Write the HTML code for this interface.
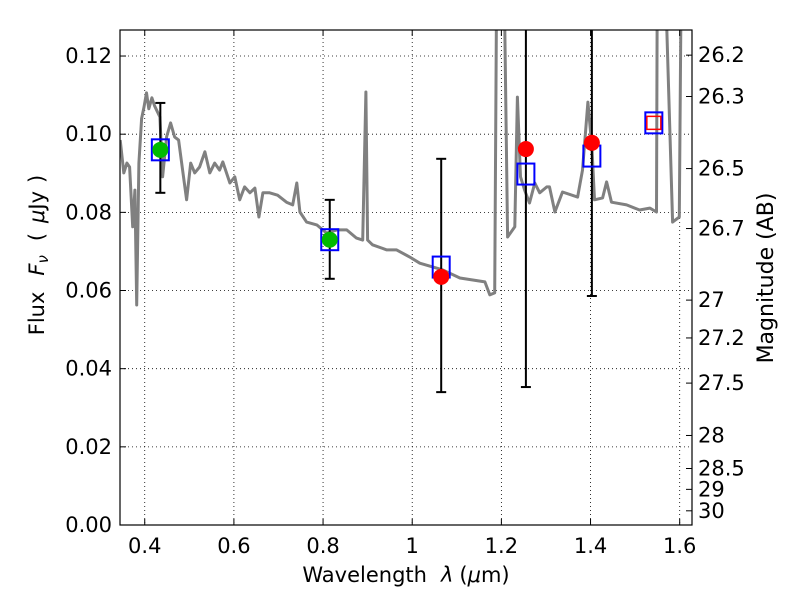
<!DOCTYPE html>
<html><head><meta charset="utf-8"><style>
body{margin:0;background:#fff;}
svg text{font-family:"DejaVu Sans","Liberation Sans",sans-serif;}
</style></head><body>
<svg id="chart" width="800" height="600" xmlns="http://www.w3.org/2000/svg">
<defs><clipPath id="pc"><rect x="120" y="30" width="572" height="495"/></clipPath></defs>
<rect x="0" y="0" width="800" height="600" fill="#fff"/>
<g id="grid"></g>
<g id="spec" clip-path="url(#pc)"></g>
<g id="phot" clip-path="url(#pc)"></g>
<rect x="120" y="30" width="572" height="495" fill="none" stroke="#000" stroke-width="1.2"/>
<g id="axes"></g>
<text x="406" y="582" font-size="21" text-anchor="middle">Wavelength<tspan dx="14" font-style="italic">λ</tspan><tspan dx="6">(</tspan><tspan font-style="italic">μ</tspan>m)</text>
<text transform="translate(44,255) rotate(-90)" font-size="21" text-anchor="middle">Flux<tspan dx="16" font-style="italic">F</tspan><tspan font-style="italic" font-size="15" dy="4">ν</tspan><tspan dy="-4" dx="14">(</tspan><tspan dx="10" font-style="italic">μ</tspan>Jy<tspan dx="8">)</tspan></text>
<text transform="translate(773,278) rotate(-90)" font-size="22" text-anchor="middle">Magnitude (AB)</text>
</svg>
<script>
const specLam=[0.345,0.353,0.360,0.366,0.373,0.378,0.382,0.387,0.393,0.398,0.404,0.409,0.416,0.422,0.434,0.440,0.449,0.458,0.467,0.476,0.485,0.494,0.503,0.512,0.523,0.535,0.546,0.557,0.568,0.575,0.591,0.602,0.613,0.624,0.636,0.647,0.656,0.665,0.680,0.698,0.718,0.732,0.741,0.748,0.763,0.786,0.808,0.831,0.853,0.875,0.889,0.896,0.900,0.911,0.943,0.965,0.994,1.017,1.068,1.107,1.163,1.174,1.185,1.190,1.196,1.205,1.214,1.230,1.236,1.243,1.252,1.263,1.275,1.286,1.302,1.308,1.320,1.337,1.371,1.382,1.394,1.403,1.409,1.427,1.436,1.447,1.481,1.510,1.533,1.548,1.550,1.555,1.565,1.584,1.599,1.604,1.615,1.627];
const specFlux=[0.0985,0.0901,0.0926,0.0916,0.0763,0.0857,0.0563,0.0926,0.104,0.1068,0.1106,0.1065,0.1093,0.1073,0.1044,0.0891,0.0993,0.1029,0.0993,0.0985,0.0908,0.0832,0.0926,0.0901,0.0916,0.0955,0.0901,0.0926,0.0908,0.0929,0.0875,0.0891,0.0832,0.0865,0.0850,0.0862,0.0788,0.0850,0.0850,0.0844,0.0826,0.0819,0.0875,0.0801,0.0775,0.0768,0.0747,0.0755,0.0755,0.0734,0.0729,0.1108,0.0729,0.0717,0.0704,0.0704,0.0686,0.0670,0.0653,0.0632,0.0622,0.0589,0.0594,0.15,0.15,0.15,0.0737,0.0763,0.1095,0.0891,0.0857,0.0824,0.0875,0.0850,0.0865,0.0865,0.0801,0.0852,0.0839,0.0908,0.1082,0.0967,0.0832,0.0837,0.0878,0.0826,0.0819,0.0806,0.0811,0.0801,0.15,0.15,0.15,0.0775,0.0788,0.15,0.15,0.15];
const photLam=[0.435,0.815,1.065,1.255,1.403,1.542];
const obsFlux=[0.096,0.073,0.0635,0.0962,0.0978,0.1029];
const modelFlux=[0.096,0.073,0.066,0.0898,0.0944,0.1029];
const errLo=[0.085,0.063,0.034,0.0353,0.0586,null];
const errHi=[0.108,0.0832,0.0937,0.16,0.16,null];
const obsKind=['green','green','red','red','red','redsq'];
const xTicks=[0.4,0.6,0.8,1.0,1.2,1.4,1.6];
const xTickLabels=['0.4','0.6','0.8','1','1.2','1.4','1.6'];
const yTicks=[0,0.02,0.04,0.06,0.08,0.10,0.12];
const yTickLabels=['0.00','0.02','0.04','0.06','0.08','0.10','0.12'];
const magTicks=[26.2,26.3,26.5,26.7,27,27.2,27.5,28,28.5,29,30];
const magLabels=['26.2','26.3','26.5','26.7','27','27.2','27.5','28','28.5','29','30'];

const X0=120,X1=692,Y0=525,Y1=30,XMIN=0.3445,XMAX=1.6276,YMIN=0,YMAX=0.12666;
const sx=v=>X0+(v-XMIN)/(XMAX-XMIN)*(X1-X0);
const sy=v=>Y0-(v-YMIN)/(YMAX-YMIN)*(Y0-Y1);
const NS='http://www.w3.org/2000/svg';
function mk(tag,parent,attrs){const e=document.createElementNS(NS,tag);for(const k in attrs)e.setAttribute(k,attrs[k]);parent.appendChild(e);return e;}
const grid=document.getElementById('grid'),axes=document.getElementById('axes'),spec=document.getElementById('spec'),phot=document.getElementById('phot');

xTicks.forEach((t,i)=>{
  const x=sx(t);
  const g=mk('line',grid,{x1:x,x2:x,y1:Y1,y2:Y0,stroke:'#000','stroke-width':0.8,'stroke-dasharray':'1,3'});
  
  
  mk('line',axes,{x1:x,x2:x,y1:Y0,y2:Y0-6,stroke:'#000'});
  mk('line',axes,{x1:x,x2:x,y1:Y1,y2:Y1+6,stroke:'#000'});
  const l=mk('text',axes,{x:x,y:Y0+28,'font-size':21,'text-anchor':'middle'});
  l.textContent=xTickLabels[i];
  
  
});
yTicks.forEach((t,i)=>{
  const y=sy(t);
  const g=mk('line',grid,{x1:X0,x2:X1,y1:y,y2:y,stroke:'#000','stroke-width':0.8,'stroke-dasharray':'1,3'});
  
  
  mk('line',axes,{x1:X0,x2:X0+6,y1:y,y2:y,stroke:'#000'});
  const l=mk('text',axes,{x:X0-8,y:y+7,'font-size':21,'text-anchor':'end'});
  l.textContent=yTickLabels[i];
  
  
});
magTicks.forEach((m,i)=>{
  const f=Math.pow(10,(23.9-m)/2.5);
  const y=sy(f);
  mk('line',axes,{x1:X1,x2:X1-6,y1:y,y2:y,stroke:'#000'});
  const l=mk('text',axes,{x:X1+6,y:y+7,'font-size':21});
  l.textContent=magLabels[i];
  
  
});

let d='';
specLam.forEach((l,i)=>{d+=(i?'L':'M')+sx(l).toFixed(1)+','+sy(specFlux[i]).toFixed(1);});
const sp=mk('path',spec,{d:d,fill:'none',stroke:'#808080','stroke-width':3,'stroke-linejoin':'round'});



photLam.forEach((l,i)=>{
  const x=sx(l);
  if(errLo[i]!==null){
    const eb=mk('g',phot,{stroke:'#000','stroke-width':2});
    
    
    mk('line',eb,{x1:x,x2:x,y1:sy(errLo[i]),y2:sy(errHi[i])});
    mk('line',eb,{x1:x-5,x2:x+5,y1:sy(errLo[i]),y2:sy(errLo[i])});
    mk('line',eb,{x1:x-5,x2:x+5,y1:sy(errHi[i]),y2:sy(errHi[i])});
  }
  const sq=mk('rect',phot,{x:x-8.5,y:sy(modelFlux[i])-10.5,width:17,height:21,fill:'none',stroke:'#0000ff','stroke-width':2});
  
  
  let o;
  if(obsKind[i]==='redsq'){
    o=mk('rect',phot,{x:x-7,y:sy(obsFlux[i])-6.5,width:14,height:13,fill:'none',stroke:'#ff0000','stroke-width':1.5});
  }else{
    o=mk('circle',phot,{cx:x,cy:sy(obsFlux[i]),r:8,fill:obsKind[i]==='green'?'#00bb00':'#ff0000'});
  }
  
  
});
</script>
</body></html>
